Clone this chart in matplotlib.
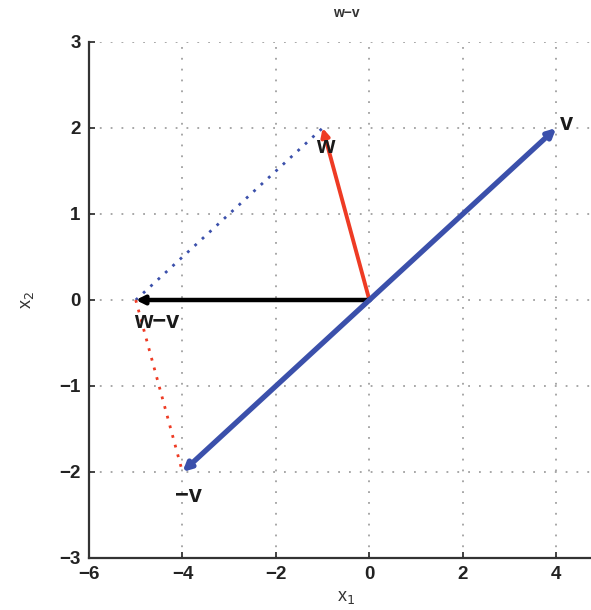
import numpy as np
import matplotlib
matplotlib.use("Agg")
import matplotlib.pyplot as plt

plt.rcParams['font.family'] = ['Liberation Sans', 'DejaVu Sans']

# vectors
v = np.array([4, 2])
w = np.array([-1, 2])
wmv = w - v
mv = -v

blue = '#3b50ab'
red = '#ee3b24'

fig = plt.figure(figsize=(5.91, 6.10), dpi=100)
ax = fig.add_axes([89/591, 52/610, 514/591, 516/610])

def arrow(ax, tip, color, lw):
    ax.annotate('', xy=(tip[0], tip[1]), xytext=(0, 0),
                arrowprops=dict(arrowstyle='-|>', color=color, lw=lw,
                                mutation_scale=12, shrinkA=0, shrinkB=0))

# dotted guides
ax.plot([wmv[0], w[0]], [wmv[1], w[1]], color=blue, lw=2.0, ls=(0, (1, 2.6)))
ax.plot([wmv[0], mv[0]], [wmv[1], mv[1]], color=red, lw=2.0, ls=(0, (1, 2.6)))

arrow(ax, w, red, 2.8)
arrow(ax, wmv, 'black', 3.2)
arrow(ax, v, blue, 3.8)
arrow(ax, mv, blue, 3.8)

lab = dict(fontsize=17, fontweight='bold', color='#1a1a1a')
ax.text(v[0] + 0.08, v[1] + 0.05, 'v', ha='left', va='center', **lab)
ax.text(w[0] + 0.06, w[1] - 0.22, 'w', ha='center', va='center', **lab)
ax.text(wmv[0] + 0.44, wmv[1] - 0.25, 'w\u2212v', ha='center', va='center', **lab)
ax.text(mv[0] + 0.12, mv[1] - 0.27, '\u2212v', ha='center', va='center', **lab)

ax.set_xlim(-6, 5)
ax.set_ylim(-3, 3)
ax.set_xticks(np.arange(-6, 5, 2))
ax.set_yticks(np.arange(-3, 4, 1))
ax.set_xticklabels(['\u22126', '\u22124', '\u22122', '0', '2', '4'])
ax.set_yticklabels(['\u22123', '\u22122', '\u22121', '0', '1', '2', '3'])
ax.grid(True, color='#a0a0a0', lw=1.3, ls=(0, (1, 5)))
ax.set_axisbelow(True)
ax.spines['top'].set_visible(False)
ax.spines['right'].set_visible(False)
for s in ['left', 'bottom']:
    ax.spines[s].set_linewidth(1.6)
    ax.spines[s].set_color('#333333')
ax.tick_params(direction='in', length=4, width=1.2, labelsize=13.5,
               colors='#222222', pad=6)
for t in ax.get_xticklabels() + ax.get_yticklabels():
    t.set_fontweight('bold')

ax.set_title('w\u2212v', fontsize=10, fontweight='bold', color='#333333', pad=18)
ax.set_xlabel('x$_1$', fontsize=13, color='#333333', labelpad=4)
ax.set_ylabel('x$_2$', fontsize=13, color='#333333', labelpad=17)

fig.savefig('out.png', dpi=100)
